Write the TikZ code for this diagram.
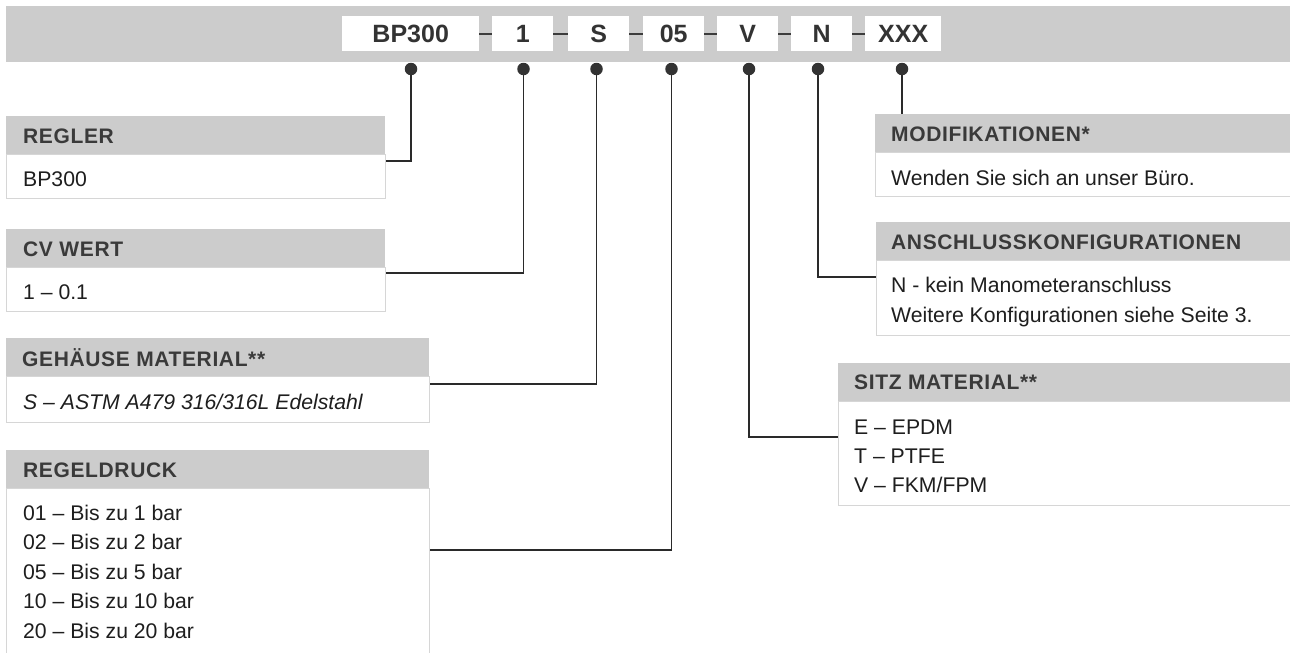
\documentclass[tikz,border=0pt]{standalone}
\usepackage{fontspec}
\setmainfont{Liberation Sans}
\newfontfamily\hdrfont[LetterSpace=3]{Liberation Sans}
\usetikzlibrary{calc}
\definecolor{bargray}{HTML}{CCCCCC}
\definecolor{bordergray}{HTML}{D6D6D6}
\definecolor{hdrtext}{HTML}{3A3A3A}
\definecolor{bodytext}{HTML}{1E1E1E}
\definecolor{codetext}{HTML}{333333}
\definecolor{linecol}{HTML}{2A2A2A}
\definecolor{dashcol}{HTML}{3C3C3C}
\definecolor{dotcol}{HTML}{333333}
\tikzset{
  hdr/.style={fill=bargray, draw=none, anchor=north west, minimum height=38pt, inner sep=0pt},
  bodybox/.style={fill=white, draw=bordergray, line width=1.2pt, anchor=north west, inner sep=0pt},
  hdrtxt/.style={anchor=base west, inner sep=0pt, text=hdrtext, font=\hdrfont\bfseries\fontsize{21}{21}\selectfont},
  bodytxt/.style={anchor=base west, inner sep=0pt, text=bodytext, font=\fontsize{21.2}{21.2}\selectfont},
  codebox/.style={fill=white, draw=none, minimum height=35pt, inner sep=0pt, anchor=north west, text=codetext, font=\bfseries\fontsize{25}{25}\selectfont},
  dotn/.style={circle, fill=dotcol, minimum size=12.5pt, inner sep=0pt},
  conn/.style={draw=linecol, line width=1.3pt},
  codedash/.style={draw=dashcol, line width=2.4pt}
}
\begin{document}
\begin{tikzpicture}[x=1pt,y=-1pt]
\fill[white] (0,0) rectangle (1290,653);
\clip (0,0) rectangle (1290,653);
% top bar
\fill[bargray] (6,6) rectangle (1295,62);
\node[codebox, minimum width=137pt] (cBP) at (342,16) {BP300};
\node[codebox, minimum width=61pt] (cOne) at (492,16) {1};
\node[codebox, minimum width=61pt] (cS) at (568,16) {S};
\node[codebox, minimum width=61pt] (cFive) at (643,16) {05};
\node[codebox, minimum width=61pt] (cV) at (717,16) {V};
\node[codebox, minimum width=61pt] (cN) at (791,16) {N};
\node[codebox, minimum width=76pt] (cX) at (865,16) {XXX};
\draw[codedash] (cBP.east) -- (cOne.west);
\draw[codedash] (cOne.east) -- (cS.west);
\draw[codedash] (cS.east) -- (cFive.west);
\draw[codedash] (cFive.east) -- (cV.west);
\draw[codedash] (cV.east) -- (cN.west);
\draw[codedash] (cN.east) -- (cX.west);
% dots
\node[dotn] (dBP) at (411,69) {};
\node[dotn] (dOne) at (523.5,69) {};
\node[dotn] (dS) at (596.5,69) {};
\node[dotn] (dFive) at (671.5,69) {};
\node[dotn] (dV) at (749,69) {};
\node[dotn] (dN) at (818,69) {};
\node[dotn] (dX) at (902,69) {};
% left boxes
\node[hdr, minimum width=379pt] (regH) at (6,116) {};
\node[bodybox, minimum width=379pt, minimum height=44pt] (regB) at (6,154) {};
\node[hdrtxt] (regHt) at (23,143) {REGLER};
\node[bodytxt] (regBt) at (23,186) {BP300};

\node[hdr, minimum width=379pt] (cvH) at (6,229) {};
\node[bodybox, minimum width=379pt, minimum height=44pt] (cvB) at (6,267) {};
\node[hdrtxt] (cvHt) at (23,256) {CV WERT};
\node[bodytxt] (cvBt) at (23,299) {1 – 0.1};

\node[hdr, minimum width=423pt] (gehH) at (6,338) {};
\node[bodybox, minimum width=423pt, minimum height=46pt] (gehB) at (6,376) {};
\node[hdrtxt] (gehHt) at (22,366) {GEHÄUSE MATERIAL**};
\node[bodytxt, font=\itshape\fontsize{21.2}{21.2}\selectfont] (gehBt) at (23,409) {S – ASTM A479 316/316L Edelstahl};

\node[hdr, minimum width=423pt] (rdH) at (6,450) {};
\node[bodybox, minimum width=423pt, minimum height=220pt] (rdB) at (6,488) {};
\node[hdrtxt] (rdHt) at (23,477) {REGELDRUCK};
\node[bodytxt] (rd1) at (23,520) {01 – Bis zu 1 bar};
\node[bodytxt] (rd2) at (23,549.5) {02 – Bis zu 2 bar};
\node[bodytxt] (rd3) at (23,579) {05 – Bis zu 5 bar};
\node[bodytxt] (rd4) at (23,608.5) {10 – Bis zu 10 bar};
\node[bodytxt] (rd5) at (23,638) {20 – Bis zu 20 bar};
% right boxes
\node[hdr, minimum width=425pt] (modH) at (875,114) {};
\node[bodybox, minimum width=425pt, minimum height=44pt] (modB) at (875,152) {};
\node[hdrtxt] (modHt) at (891,141) {MODIFIKATIONEN*};
\node[bodytxt] (modBt) at (891,185) {Wenden Sie sich an unser Büro.};

\node[hdr, minimum width=425pt] (anH) at (876,222) {};
\node[bodybox, minimum width=425pt, minimum height=75pt] (anB) at (876,260) {};
\node[hdrtxt] (anHt) at (891,249) {ANSCHLUSSKONFIGURATIONEN};
\node[bodytxt] (an1) at (891,292) {N - kein Manometeranschluss};
\node[bodytxt] (an2) at (891,322) {Weitere Konfigurationen siehe Seite 3.};

\node[hdr, minimum width=460pt] (siH) at (838,363) {};
\node[bodybox, minimum width=460pt, minimum height=104pt] (siB) at (838,401) {};
\node[hdrtxt] (siHt) at (854,389) {SITZ MATERIAL**};
\node[bodytxt] (si1) at (854,434) {E – EPDM};
\node[bodytxt] (si2) at (854,463) {T – PTFE};
\node[bodytxt] (si3) at (854,492) {V – FKM/FPM};
% connectors
\draw[conn] (dBP.south) |- ([yshift=-7pt]regB.north east);
\draw[conn] (dOne.south) |- ([yshift=-6pt]cvB.north east);
\draw[conn] (dS.south) |- ([yshift=-8pt]gehB.north east);
\draw[conn] (dFive.south) |- ([yshift=-62pt]rdB.north east);
\draw[conn] (dV.south) |- ([yshift=-36pt]siB.north west);
\draw[conn] (dN.south) |- ([yshift=-17pt]anB.north west);
\draw[conn] (dX.south) -- (dX.south |- modH.north);
\end{tikzpicture}
\end{document}
